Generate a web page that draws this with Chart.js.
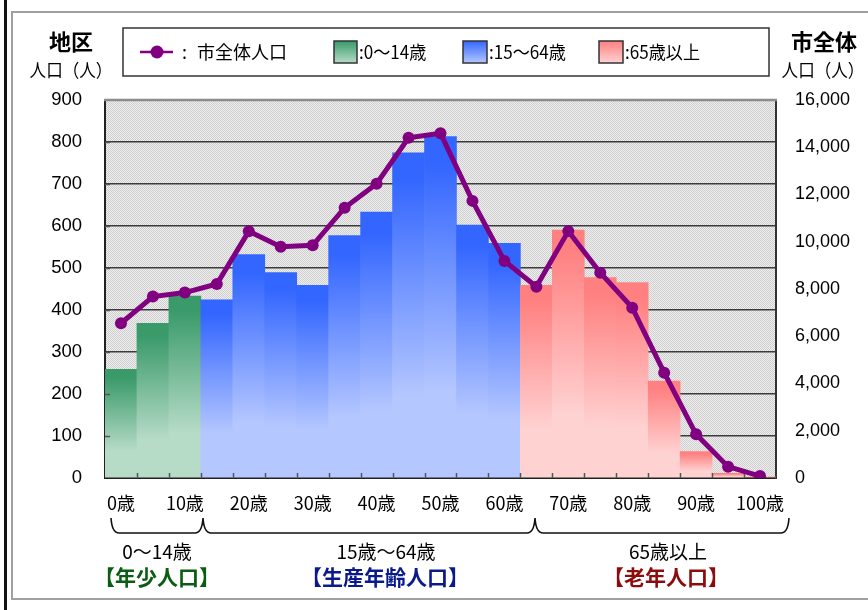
<!DOCTYPE html>
<html lang="ja">
<head>
<meta charset="utf-8">
<title>年齢別人口</title>
<script src="https://cdn.jsdelivr.net/npm/chart.js@4.4.1/dist/chart.umd.min.js"></script>
<style>
  html, body { margin: 0; padding: 0; background: #fff; }
  #wrap { position: relative; width: 868px; height: 610px; }
</style>
</head>
<body>
<div id="wrap"><canvas id="myChart" width="868" height="610"></canvas></div>
<script>
// 5歳階級ごとの人口（左軸：地区、右軸：市全体）
const ageGroups = ["0～4歳", "5～9歳", "10～14歳", "15～19歳", "20～24歳", "25～29歳", "30～34歳",
  "35～39歳", "40～44歳", "45～49歳", "50～54歳", "55～59歳", "60～64歳", "65～69歳",
  "70～74歳", "75～79歳", "80～84歳", "85～89歳", "90～94歳", "95～99歳", "100歳以上"];
const tickLabels = ["0歳", "", "10歳", "", "20歳", "", "30歳", "", "40歳", "", "50歳",
  "", "60歳", "", "70歳", "", "80歳", "", "90歳", "", "100歳"];
const districtPop = [259, 368, 433, 424, 532, 489, 459, 577, 633, 774, 813,
  602, 559, 459, 590, 477, 465, 231, 63, 11, 2];
const cityPop = [6550, 7680, 7850, 8210, 10440, 9790, 9850, 11440, 12460, 14400, 14590,
  11730, 9190, 8100, 10450, 8690, 7210, 4460, 1850, 480, 80];
const leftTicks = [0, 900, 100];      // min, max, step
const rightTicks = [0, 16000, 2000];

const JP = "'Noto Sans CJK JP', sans-serif";
const NUM = "'Liberation Sans', 'Noto Sans CJK JP', sans-serif";

// 0:年少 1:生産年齢 2:老年
function groupOf(i) {
  if (i <= 2) return 0;
  if (i <= 12) return 1;
  return 2;
}
const barColors = [
  ["#3a9a6a", "#b6dbc7"],
  ["#3366ff", "#b5c7ff"],
  ["#ff8080", "#ffd2d2"]
];

function barFill(ctx) {
  const chart = ctx.chart;
  const cols = barColors[groupOf(ctx.dataIndex || 0)];
  if (!chart.chartArea || ctx.raw == null) return cols[0];
  const y = chart.scales.y;
  const y0 = y.getPixelForValue(ctx.raw);
  const y1 = y.getPixelForValue(0);
  if (y1 - y0 < 1) return cols[0];
  const g = chart.ctx.createLinearGradient(0, y0, 0, y1);
  g.addColorStop(0, cols[0]);
  g.addColorStop(0.08, cols[0]);
  g.addColorStop(0.75, cols[1]);
  g.addColorStop(1, cols[1]);
  return g;
}

// 網掛けの背景
const hatch = (function () {
  const c = document.createElement("canvas");
  c.width = 2; c.height = 2;
  const g = c.getContext("2d");
  g.fillStyle = "#f0f0f0";
  g.fillRect(0, 0, 2, 2);
  g.fillStyle = "#cdcdcd";
  g.fillRect(0, 0, 1, 1);
  g.fillRect(1, 1, 1, 1);
  return c;
})();

function text(ctx, str, x, y, font, color, align, sx) {
  ctx.save();
  ctx.font = font;
  ctx.fillStyle = color;
  ctx.textAlign = align || "center";
  ctx.textBaseline = "middle";
  ctx.translate(x, y);
  ctx.scale(sx || 1, 1);
  ctx.fillText(str, 0, 0);
  ctx.restore();
}

function swatch(ctx, x, y, w, h, cols) {
  const g = ctx.createLinearGradient(0, y, 0, y + h);
  g.addColorStop(0, cols[0]);
  g.addColorStop(1, cols[1]);
  ctx.fillStyle = g;
  ctx.fillRect(x, y, w, h);
  ctx.strokeStyle = "#333";
  ctx.lineWidth = 1.5;
  ctx.strokeRect(x, y, w, h);
}

const decor = {
  id: "decor",
  beforeDraw(chart) {
    const ctx = chart.ctx;
    const a = chart.chartArea;
    ctx.save();
    ctx.fillStyle = "#fff";
    ctx.fillRect(0, 0, chart.width, chart.height);
    // 外枠
    ctx.fillStyle = "#111";
    ctx.fillRect(4, 0, 3, chart.height);
    ctx.strokeStyle = "#a0a0a0";
    ctx.lineWidth = 2;
    ctx.strokeRect(12, 12, 880, 587);
    // 描画領域
    ctx.fillStyle = ctx.createPattern(hatch, "repeat");
    ctx.fillRect(a.left, a.top, a.right - a.left, a.bottom - a.top);
    ctx.restore();
  },
  afterDatasetDraw(chart, args) {
    if (args.index !== 0) return;
    const ctx = chart.ctx;
    const a = chart.chartArea;
    const y = chart.scales.y;
    ctx.save();
    ctx.strokeStyle = "#8c8c8c";
    ctx.lineWidth = 2.5;
    ctx.beginPath();
    ctx.moveTo(a.left - 1, a.top);
    ctx.lineTo(a.right + 1, a.top);
    ctx.stroke();
    // 内向きの目盛り
    ctx.strokeStyle = "#555";
    ctx.lineWidth = 1.5;
    ctx.beginPath();
    const w = (a.right - a.left) / ageGroups.length;
    for (let i = 1; i < ageGroups.length; i++) {
      const px = Math.round(a.left + i * w) + 0.5;
      ctx.moveTo(px, a.bottom);
      ctx.lineTo(px, a.bottom - 5);
    }
    for (let v = leftTicks[2]; v < leftTicks[1]; v += leftTicks[2]) {
      const py = Math.round(y.getPixelForValue(v)) + 0.5;
      ctx.moveTo(a.left, py);
      ctx.lineTo(a.left + 5, py);
    }
    ctx.stroke();
    ctx.restore();
  },
  afterDraw(chart) {
    const ctx = chart.ctx;
    ctx.save();
    // 軸タイトル
    text(ctx, "地区", 71, 42, "bold 22px " + JP, "#000");
    text(ctx, "人口（人）", 71, 70, "18px " + JP, "#000", "center", 0.92);
    text(ctx, "市全体", 824, 42, "bold 22px " + JP, "#000");
    text(ctx, "人口（人）", 823, 70, "18px " + JP, "#000", "center", 0.92);

    // 凡例
    ctx.fillStyle = "#fff";
    ctx.fillRect(123, 28, 646, 48);
    ctx.strokeStyle = "#333";
    ctx.lineWidth = 1.5;
    ctx.strokeRect(123, 28, 646, 48);
    ctx.strokeStyle = "#800080";
    ctx.lineWidth = 2.5;
    ctx.beginPath();
    ctx.moveTo(140, 52);
    ctx.lineTo(173, 52);
    ctx.stroke();
    ctx.fillStyle = "#800080";
    ctx.beginPath();
    ctx.arc(157, 52, 6.5, 0, Math.PI * 2);
    ctx.fill();
    text(ctx, ":", 182, 52, "18px " + JP, "#000", "left");
    text(ctx, "市全体人口", 197, 52, "18px " + JP, "#000", "left");
    swatch(ctx, 334, 41, 23, 22, barColors[0]);
    text(ctx, ":0～14歳", 359, 52, "18px " + JP, "#000", "left", 0.95);
    swatch(ctx, 463, 41, 24, 22, barColors[1]);
    text(ctx, ":15～64歳", 489, 52, "18px " + JP, "#000", "left", 0.95);
    swatch(ctx, 599, 41, 24, 22, barColors[2]);
    text(ctx, ":65歳以上", 625, 52, "18px " + JP, "#000", "left", 0.95);

    // 区分の括弧
    ctx.strokeStyle = "#111";
    ctx.lineWidth = 1.6;
    const yT = 518, yB = 533, r = 8;
    const edges = [111, 203, 535, 789];
    ctx.beginPath();
    for (let i = 0; i < 3; i++) {
      const x0 = edges[i], x1 = edges[i + 1];
      ctx.moveTo(x0, yT);
      ctx.quadraticCurveTo(x0 + 1, yB, x0 + r, yB);
      ctx.lineTo(x1 - r, yB);
      ctx.quadraticCurveTo(x1 - 1, yB, x1, yT);
    }
    ctx.stroke();

    text(ctx, "0～14歳", 157, 552, "19px " + JP, "#000");
    text(ctx, "15歳～64歳", 386, 552, "19px " + JP, "#000");
    text(ctx, "65歳以上", 668, 552, "19px " + JP, "#000");
    text(ctx, "【年少人口】", 157, 577, "bold 21px " + JP, "#0b5d13");
    text(ctx, "【生産年齢人口】", 385, 577, "bold 21px " + JP, "#0a1a8c");
    text(ctx, "【老年人口】", 666, 577, "bold 21px " + JP, "#8a0c0c");
    ctx.restore();
  }
};

const data = {
  labels: ageGroups,
  datasets: [
    {
      type: "bar",
      label: "地区人口",
      data: districtPop,
      yAxisID: "y",
      backgroundColor: barFill,
      borderWidth: 0,
      barPercentage: 1,
      categoryPercentage: 1,
      order: 1
    },
    {
      type: "line",
      label: "市全体人口",
      data: cityPop,
      yAxisID: "y2",
      borderColor: "#800080",
      backgroundColor: "#800080",
      borderWidth: 5,
      pointRadius: 6,
      pointBackgroundColor: "#800080",
      pointBorderWidth: 0,
      tension: 0,
      order: 0
    }
  ]
};

const config = {
  type: "bar",
  data: data,
  options: {
    responsive: false,
    devicePixelRatio: 1,
    animation: false,
    layout: {
      padding: { top: 100, bottom: 92, left: 0, right: 0 }
    },
    plugins: {
      legend: { display: false },
      tooltip: { enabled: false }
    },
    scales: {
      x: {
        type: "category",
        offset: true,
        grid: { display: false, drawTicks: false },
        border: { display: true, color: "#222", width: 2 },
        ticks: {
          autoSkip: false,
          maxRotation: 0,
          padding: 14,
          color: "#000",
          font: { family: JP, size: 18 },
          callback: (v, i) => tickLabels[i]
        },
        afterFit: (s) => { s.height = 40; }
      },
      y: {
        position: "left",
        min: leftTicks[0],
        max: leftTicks[1],
        ticks: {
          stepSize: leftTicks[2],
          padding: 23,
          color: "#000",
          font: { family: NUM, size: 18.5 }
        },
        grid: {
          color: (c) => (c.tick && c.tick.value === leftTicks[1] ? "rgba(0,0,0,0)" : "#3c3c3c"),
          lineWidth: 1.5,
          drawTicks: false
        },
        border: { color: "#222", width: 2 },
        afterFit: (s) => { s.width = 105; }
      },
      y2: {
        position: "right",
        min: rightTicks[0],
        max: rightTicks[1],
        ticks: {
          stepSize: rightTicks[2],
          padding: 19,
          color: "#000",
          font: { family: NUM, size: 18 },
          callback: (v) => v.toLocaleString("en-US")
        },
        grid: { drawOnChartArea: false, drawTicks: false },
        border: { color: "#333", width: 2 },
        afterFit: (s) => { s.width = 92; }
      }
    }
  },
  plugins: [decor]
};

const canvas = document.getElementById("myChart");
const myChart = new Chart(canvas.getContext("2d"), config);
</script>
</body>
</html>
